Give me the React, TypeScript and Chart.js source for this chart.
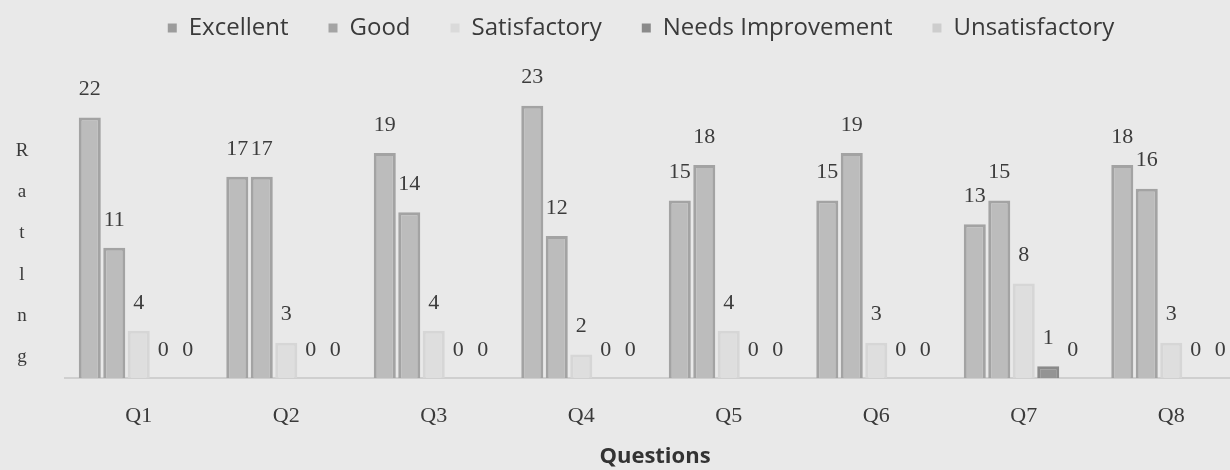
import React, { useEffect, useRef } from "react";
import { Chart, registerables } from "chart.js";

Chart.register(...registerables);

const categories = ["Q1", "Q2", "Q3", "Q4", "Q5", "Q6", "Q7", "Q8"];
const seriesNames = ["Excellent", "Good", "Satisfactory", "Needs Improvement", "Unsatisfactory"];
const excellent = [22, 17, 19, 23, 15, 15, 13, 18];
const good = [11, 17, 14, 12, 18, 19, 15, 16];
const satisfactory = [4, 3, 4, 2, 4, 3, 8, 3];
const needsImprovement = [0, 0, 0, 0, 0, 0, 1, 0];
const unsatisfactory = [0, 0, 0, 0, 0, 0, 0, 0];
const yTitleLetters = ["R", "a", "t", "l", "n", "g"];

const fills = ["#bcbcbc", "#bcbcbc", "#dedede", "#949494", "#d6d6d6"];
const borders = ["#a3a3a3", "#a3a3a3", "#d6d6d6", "#8a8a8a", "#cfcfcf"];
const legendFills = ["#9c9c9c", "#a4a4a4", "#dadada", "#8a8a8a", "#cdcdcd"];

const bgPlugin = {
  id: "bg",
  beforeDraw(chart: any) {
    const { ctx, width, height } = chart;
    ctx.save();
    ctx.fillStyle = "#e9e9e9";
    ctx.fillRect(0, 0, width, height);
    ctx.restore();
  },
};

const legendShiftPlugin = {
  id: "legendShift",
  afterLayout(chart: any) {
    if (chart.legend) {
      chart.legend.right -= 28;
      chart.legend.width -= 28;
    }
  },
};

const labelPlugin = {
  id: "valueLabels",
  afterDatasetsDraw(chart: any) {
    const { ctx } = chart;
    ctx.save();
    ctx.font = "22px 'Liberation Serif', serif";
    ctx.fillStyle = "#3c3c3c";
    ctx.textAlign = "center";
    ctx.textBaseline = "middle";
    chart.data.datasets.forEach((ds: any, i: number) => {
      const meta = chart.getDatasetMeta(i);
      meta.data.forEach((el: any, j: number) => {
        ctx.fillText(String(ds.data[j]), el.x, el.y - 28);
      });
    });
    ctx.restore();
  },
};

const yTitlePlugin = {
  id: "yTitleStack",
  afterDraw(chart: any) {
    const { ctx } = chart;
    ctx.save();
    ctx.font = "19px 'Liberation Serif', serif";
    ctx.fillStyle = "#3a3a3a";
    ctx.textAlign = "center";
    ctx.textBaseline = "middle";
    yTitleLetters.forEach((l, i) => {
      ctx.fillText(l, 22, 151 + i * 41.2);
    });
    ctx.restore();
  },
};

export default function App() {
  const ref = useRef<HTMLCanvasElement>(null);
  useEffect(() => {
    document.body.style.margin = "0";
    const values = [excellent, good, satisfactory, needsImprovement, unsatisfactory];
    const chart = new Chart(ref.current!, {
      type: "bar",
      data: {
        labels: categories,
        datasets: seriesNames.map((name, i) => ({
          label: name,
          data: values[i],
          backgroundColor: fills[i],
          borderColor: borders[i],
          borderWidth: 3,
          categoryPercentage: 0.83,
          barPercentage: 0.9,
        })),
      },
      options: {
        animation: false,
        responsive: false,
        maintainAspectRatio: false,
        layout: { padding: { left: 65, right: 0, top: -24, bottom: 0 } },
        plugins: {
          tooltip: { enabled: false },
          legend: {
            position: "top",
            labels: {
              boxWidth: 9,
              boxHeight: 9,
              padding: 40,
              color: "#3a3a3a",
              font: { family: "'Open Sans', sans-serif", size: 24 },
              generateLabels: (c: any) =>
                c.data.datasets.map((ds: any, i: number) => ({
                  text: ds.label,
                  fillStyle: legendFills[i],
                  strokeStyle: legendFills[i],
                  lineWidth: 0,
                  hidden: false,
                  datasetIndex: i,
                  fontColor: "#3a3a3a",
                })),
            },
          },
        },
        scales: {
          x: {
            grid: { display: false, drawTicks: false },
            border: { display: true, color: "#cfcfcf", width: 2 },
            ticks: {
              color: "#3a3a3a",
              padding: 25,
              font: { family: "'Liberation Serif', serif", size: 22 },
            },
            title: {
              display: true,
              text: "Questions",
              color: "#333",
              font: { family: "'Open Sans', sans-serif", size: 22, weight: "bold" },
              padding: { top: -11, bottom: 0 },
            },
          },
          y: {
            display: false,
            min: 0,
            max: 27.7,
          },
        },
      },
      plugins: [bgPlugin, legendShiftPlugin, labelPlugin, yTitlePlugin],
    });
    return () => chart.destroy();
  }, []);
  return (
    <div style={{ width: 1230, height: 470, overflow: "hidden" }}>
      <canvas ref={ref} width={1245} height={470} style={{ display: "block" }} />
    </div>
  );
}
